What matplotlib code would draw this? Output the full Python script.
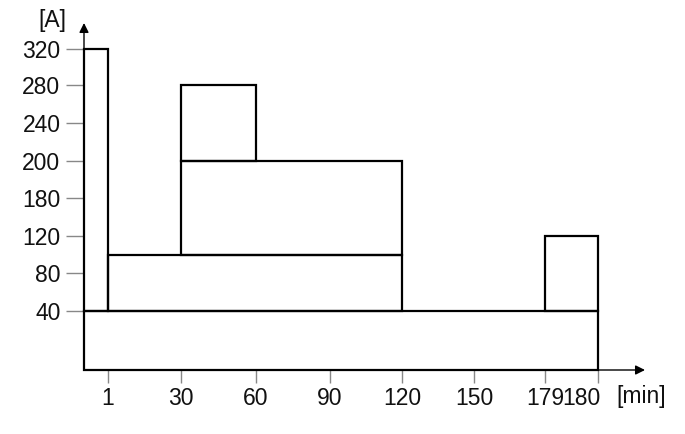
import numpy as np
import matplotlib
matplotlib.use("Agg")
import matplotlib.pyplot as plt
import matplotlib.transforms as mtransforms
from matplotlib.patches import Rectangle

# schematic axis: tick values and where they sit (not to scale in the original)
x_ticks = [0, 1, 30, 60, 90, 120, 150, 179, 180]
x_pos = [0, 24, 97, 172, 246, 318, 390, 461, 514]
y_ticks = [0, 40, 80, 120, 180, 200, 240, 280, 320]
y_pos = [0, 59.3, 96.7, 134.3, 171.7, 209, 247.3, 285, 321]

# load blocks: start [min], end [min], bottom [A], top [A]
t_start = [0, 0, 1, 30, 30, 179]
t_end = [180, 1, 120, 120, 60, 180]
i_low = [0, 40, 40, 100, 200, 40]
i_high = [40, 320, 100, 200, 280, 120]


def mx(v):
    return np.interp(v, x_ticks, x_pos)


def my(v):
    return np.interp(v, y_ticks, y_pos)


plt.rcParams['font.family'] = ['Liberation Sans', 'DejaVu Sans']
fs = 16.5
fig = plt.figure(figsize=(6.85, 4.34), dpi=100)
ax = fig.add_axes([84 / 685, 64 / 434, 566 / 685, 355 / 434])
ax.set_xlim(0, 566)
ax.set_ylim(0, 355)

for a, b, lo, hi in zip(t_start, t_end, i_low, i_high):
    x0, x1 = mx(a), mx(b)
    y0, y1 = my(lo), my(hi)
    ax.add_patch(Rectangle((x0, y0), x1 - x0, y1 - y0, fill=False,
                           edgecolor='black', lw=1.6, zorder=3, clip_on=False))

for s in ax.spines.values():
    s.set_visible(False)

arrow = dict(arrowstyle='-|>', lw=1.0, color='black', mutation_scale=14,
             shrinkA=0, shrinkB=0)
ax.annotate('', xy=(561, 0), xytext=(0, 0), arrowprops=arrow, annotation_clip=False)
ax.annotate('', xy=(0, 347), xytext=(0, 0), arrowprops=arrow, annotation_clip=False)

ax.set_xticks(mx(x_ticks[1:]))
ax.set_xticklabels([str(v) for v in x_ticks[1:]])
ax.set_yticks(my(y_ticks[1:]))
ax.set_yticklabels([str(v) for v in y_ticks[1:]])
ax.tick_params(axis='both', width=1.0, color='#888888',
               labelsize=fs, labelcolor='#111111')
ax.tick_params(axis='x', length=9, pad=3)
ax.tick_params(axis='y', length=13, pad=4)

# the "180" label sits to the left of its tick, butting against "179"
last = ax.get_xticklabels()[-1]
last.set_horizontalalignment('right')
last.set_transform(last.get_transform() +
                   mtransforms.ScaledTranslation(2 / 100, 0, fig.dpi_scale_trans))

ax.text(-32, 349, '[A]', fontsize=fs, ha='center', va='center', clip_on=False,
        color='#111111')
ax.text(557, -26, '[min]', fontsize=fs, ha='center', va='center', clip_on=False,
        color='#111111')

fig.savefig('out.png', dpi=100)
